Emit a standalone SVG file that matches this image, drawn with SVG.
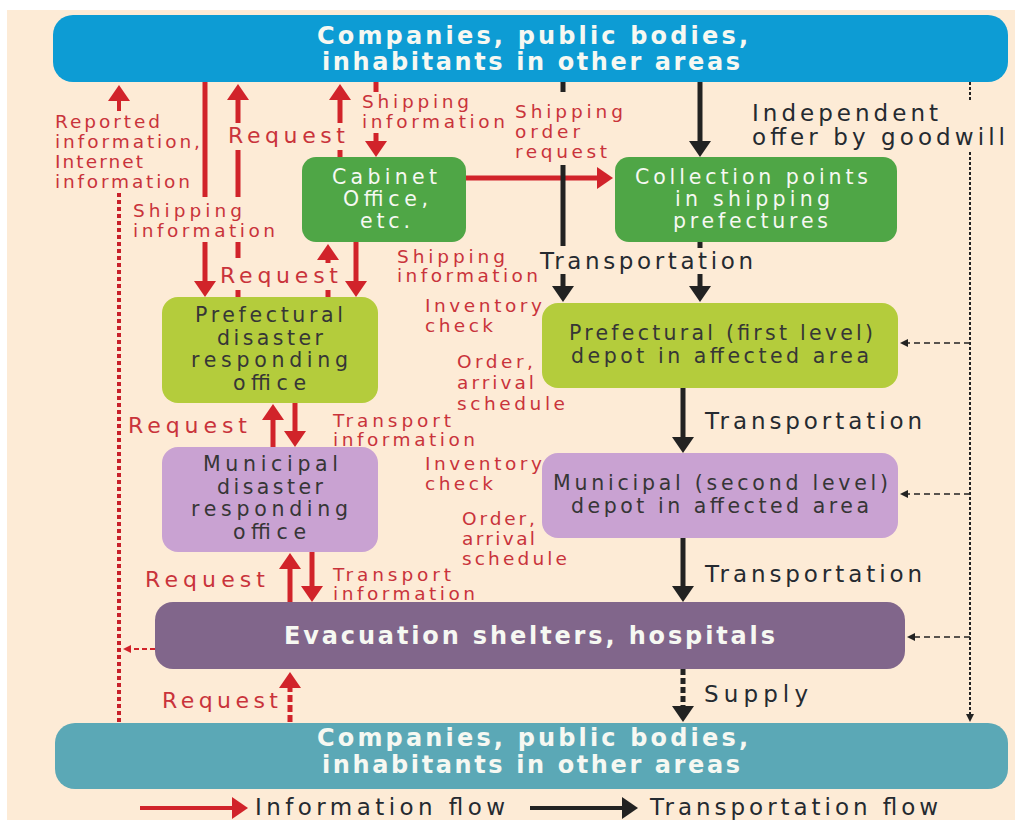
<svg xmlns="http://www.w3.org/2000/svg" width="1020" height="823" viewBox="0 0 1020 823">
<style>
  text { font-family: "DejaVu Sans", "Liberation Sans", sans-serif; }
  .bg { fill: #fdebd6; }
  .r { fill: none; stroke: #d1232a; stroke-width: 5; }
  .rdot { fill: none; stroke: #c8202a; stroke-width: 4; stroke-dasharray: 4 3; }
  .rdash { fill: none; stroke: #d1232a; stroke-width: 5; stroke-dasharray: 7 3; }
  .rthin { fill: none; stroke: #d1232a; stroke-width: 2; stroke-dasharray: 5 3; }
  .k { fill: none; stroke: #222; stroke-width: 5; }
  .kdash { fill: none; stroke: #222; stroke-width: 5; stroke-dasharray: 6 3; }
  .kdot { fill: none; stroke: #222; stroke-width: 2; stroke-dasharray: 3 2; }
  .kthin { fill: none; stroke: #222; stroke-width: 1.6; stroke-dasharray: 6 4; }
  .lr { fill: #c9333b; font-size: 18.5px; }
  .lrb { fill: #c9333b; font-size: 22px; }
  .lk { fill: #252a30; font-size: 23px; }
  .nw { fill: #f6f8f2; font-size: 20.5px; }
  .nd { fill: #363636; font-size: 20.5px; }
  .big { fill: #f6f8f2; font-size: 24px; font-weight: bold; }
</style>
<defs>
  <marker id="aR" markerUnits="userSpaceOnUse" markerWidth="16" markerHeight="22" refX="0" refY="11" orient="auto">
    <path d="M0,0 L16,11 L0,22 z" fill="#d1232a"/>
  </marker>
  <marker id="aK" markerUnits="userSpaceOnUse" markerWidth="16" markerHeight="22" refX="0" refY="11" orient="auto">
    <path d="M0,0 L16,11 L0,22 z" fill="#222"/>
  </marker>
  <marker id="aKs" markerUnits="userSpaceOnUse" markerWidth="8" markerHeight="8" refX="0" refY="4" orient="auto">
    <path d="M0,0 L8,4 L0,8 z" fill="#222"/>
  </marker>
  <marker id="aRs" markerUnits="userSpaceOnUse" markerWidth="8" markerHeight="8" refX="0" refY="4" orient="auto">
    <path d="M0,0 L8,4 L0,8 z" fill="#d1232a"/>
  </marker>
</defs>

<rect class="bg" x="7" y="10" width="1008" height="810"/>

<g id="node-top">
  <rect x="53" y="15" width="955" height="67" rx="20" fill="#0d9cd4"/>
  <text class="big" x="317" y="44" textLength="431" lengthAdjust="spacing">Companies, public bodies,</text>
  <text class="big" x="322" y="70" textLength="418" lengthAdjust="spacing">inhabitants in other areas</text>
</g>
<g id="node-cabinet">
  <rect x="302" y="157" width="164" height="85" rx="14" fill="#4fa646"/>
  <text class="nw" x="332" y="184" textLength="105" lengthAdjust="spacing">Cabinet</text>
  <text class="nw" x="343" y="206" textLength="85" lengthAdjust="spacing">Office,</text>
  <text class="nw" x="360" y="228" textLength="50" lengthAdjust="spacing">etc.</text>
</g>
<g id="node-collection">
  <rect x="615" y="157" width="282" height="85" rx="14" fill="#4fa646"/>
  <text class="nw" x="635" y="184" textLength="233" lengthAdjust="spacing">Collection points</text>
  <text class="nw" x="675" y="206" textLength="155" lengthAdjust="spacing">in shipping</text>
  <text class="nw" x="673" y="228" textLength="155" lengthAdjust="spacing">prefectures</text>
</g>
<g id="node-pref-office">
  <rect x="162" y="297" width="216" height="106" rx="16" fill="#b4cc3c"/>
  <text class="nd" x="195" y="322" textLength="148" lengthAdjust="spacing">Prefectural</text>
  <text class="nd" x="217" y="345" textLength="106" lengthAdjust="spacing">disaster</text>
  <text class="nd" x="191" y="367" textLength="157" lengthAdjust="spacing">responding</text>
  <text class="nd" x="233" y="390" textLength="73" lengthAdjust="spacing">office</text>
</g>
<g id="node-muni-office">
  <rect x="162" y="447" width="216" height="105" rx="16" fill="#c9a2d2"/>
  <text class="nd" x="203" y="471" textLength="135" lengthAdjust="spacing">Municipal</text>
  <text class="nd" x="217" y="494" textLength="106" lengthAdjust="spacing">disaster</text>
  <text class="nd" x="191" y="516" textLength="157" lengthAdjust="spacing">responding</text>
  <text class="nd" x="233" y="539" textLength="73" lengthAdjust="spacing">office</text>
</g>
<g id="node-pref-depot">
  <rect x="542" y="303" width="356" height="85" rx="16" fill="#b4cc3c"/>
  <text class="nd" x="569" y="340" textLength="304" lengthAdjust="spacing">Prefectural (first level)</text>
  <text class="nd" x="571" y="363" textLength="298" lengthAdjust="spacing">depot in affected area</text>
</g>
<g id="node-muni-depot">
  <rect x="542" y="453" width="356" height="85" rx="16" fill="#c9a2d2"/>
  <text class="nd" x="553" y="490" textLength="335" lengthAdjust="spacing">Municipal (second level)</text>
  <text class="nd" x="571" y="513" textLength="298" lengthAdjust="spacing">depot in affected area</text>
</g>
<g id="node-evac">
  <rect x="155" y="602" width="750" height="67" rx="18" fill="#81668b"/>
  <text class="big" x="284" y="644" textLength="491" lengthAdjust="spacing">Evacuation shelters, hospitals</text>
</g>
<g id="node-bottom">
  <rect x="55" y="723" width="953" height="66" rx="20" fill="#5ba8b6"/>
  <text class="big" x="317" y="746" textLength="431" lengthAdjust="spacing">Companies, public bodies,</text>
  <text class="big" x="322" y="773" textLength="418" lengthAdjust="spacing">inhabitants in other areas</text>
</g>

<g id="connectors">
  <!-- red information flows -->
  <path class="rdot" d="M119,722 L119,193"/>
  <path class="r" style="stroke-width:4" d="M119,111 L119,101" marker-end="url(#aR)"/>
  <path class="rthin" d="M155,649 L131,649" marker-end="url(#aRs)"/>
  <path class="r" d="M205,82 L205,197"/>
  <path class="r" d="M205,242 L205,281" marker-end="url(#aR)"/>
  <path class="r" d="M238,297 L238,290 M238,258 L238,242 M238,197 L238,150"/>
  <path class="r" d="M238,123 L238,100" marker-end="url(#aR)"/>
  <path class="r" d="M340,157 L340,150"/>
  <path class="r" d="M340,123 L340,100" marker-end="url(#aR)"/>
  <path class="r" d="M376,82 L376,92"/>
  <path class="r" d="M376,133 L376,141" marker-end="url(#aR)"/>
  <path class="r" d="M328,297 L328,290"/>
  <path class="r" d="M328,263 L328,260" marker-end="url(#aR)"/>
  <path class="r" d="M356,242 L356,281" marker-end="url(#aR)"/>
  <path class="r" d="M466,178 L597,178" marker-end="url(#aR)"/>
  <path class="r" d="M273,447 L273,420" marker-end="url(#aR)"/>
  <path class="r" d="M295,403 L295,431" marker-end="url(#aR)"/>
  <path class="r" d="M290,602 L290,569" marker-end="url(#aR)"/>
  <path class="r" d="M312,552 L312,586" marker-end="url(#aR)"/>
  <path class="rdash" d="M290,722 L290,688" marker-end="url(#aR)"/>
  <!-- black transportation flows -->
  <path class="k" d="M563,82 L563,92 M563,165 L563,246"/>
  <path class="k" d="M563,274 L563,286" marker-end="url(#aK)"/>
  <path class="k" d="M700,82 L700,141" marker-end="url(#aK)"/>
  <path class="k" d="M700,242 L700,248"/>
  <path class="k" d="M700,274 L700,286" marker-end="url(#aK)"/>
  <path class="k" d="M683,388 L683,437" marker-end="url(#aK)"/>
  <path class="k" d="M683,538 L683,586" marker-end="url(#aK)"/>
  <path class="kdash" d="M683,669 L683,706" marker-end="url(#aK)"/>
  <path class="kdot" d="M970,82 L970,100"/>
  <path class="kdot" d="M970,152 L970,714" marker-end="url(#aKs)"/>
  <path class="kthin" d="M970,343 L908,343" marker-end="url(#aKs)"/>
  <path class="kthin" d="M970,494 L908,494" marker-end="url(#aKs)"/>
  <path class="kthin" d="M970,637 L915,637" marker-end="url(#aKs)"/>
  <!-- legend -->
  <path class="r" style="stroke-width:4" d="M140,808 L232,808" marker-end="url(#aR)"/>
  <path class="k" style="stroke-width:4" d="M530,808 L622,808" marker-end="url(#aK)"/>
</g>

<g id="labels">
  <text class="lr" x="55" y="128" textLength="105" lengthAdjust="spacing">Reported</text>
  <text class="lr" x="55" y="148" textLength="145" lengthAdjust="spacing">information,</text>
  <text class="lr" x="55" y="168" textLength="88" lengthAdjust="spacing">Internet</text>
  <text class="lr" x="55" y="188" textLength="135" lengthAdjust="spacing">information</text>
  <text class="lrb" x="228" y="143" textLength="117" lengthAdjust="spacing">Request</text>
  <text class="lr" x="362" y="108" textLength="107" lengthAdjust="spacing">Shipping</text>
  <text class="lr" x="362" y="128" textLength="143" lengthAdjust="spacing">information</text>
  <text class="lr" x="133" y="217" textLength="109" lengthAdjust="spacing">Shipping</text>
  <text class="lr" x="133" y="237" textLength="142" lengthAdjust="spacing">information</text>
  <text class="lrb" x="220" y="283" textLength="118" lengthAdjust="spacing">Request</text>
  <text class="lr" x="397" y="263" textLength="108" lengthAdjust="spacing">Shipping</text>
  <text class="lr" x="397" y="282" textLength="141" lengthAdjust="spacing">information</text>
  <text class="lr" x="515" y="118" textLength="108" lengthAdjust="spacing">Shipping</text>
  <text class="lr" x="515" y="138" textLength="65" lengthAdjust="spacing">order</text>
  <text class="lr" x="515" y="158" textLength="92" lengthAdjust="spacing">request</text>
  <text class="lr" x="425" y="312" textLength="117" lengthAdjust="spacing">Inventory</text>
  <text class="lr" x="425" y="332" textLength="68" lengthAdjust="spacing">check</text>
  <text class="lr" x="457" y="368" textLength="76" lengthAdjust="spacing">Order,</text>
  <text class="lr" x="457" y="389" textLength="77" lengthAdjust="spacing">arrival</text>
  <text class="lr" x="457" y="410" textLength="108" lengthAdjust="spacing">schedule</text>
  <text class="lr" x="333" y="427" textLength="118" lengthAdjust="spacing">Transport</text>
  <text class="lr" x="333" y="446" textLength="142" lengthAdjust="spacing">information</text>
  <text class="lrb" x="128" y="433" textLength="119" lengthAdjust="spacing">Request</text>
  <text class="lr" x="425" y="470" textLength="117" lengthAdjust="spacing">Inventory</text>
  <text class="lr" x="425" y="490" textLength="68" lengthAdjust="spacing">check</text>
  <text class="lr" x="462" y="525" textLength="73" lengthAdjust="spacing">Order,</text>
  <text class="lr" x="462" y="545" textLength="73" lengthAdjust="spacing">arrival</text>
  <text class="lr" x="462" y="565" textLength="105" lengthAdjust="spacing">schedule</text>
  <text class="lr" x="333" y="581" textLength="118" lengthAdjust="spacing">Transport</text>
  <text class="lr" x="333" y="600" textLength="142" lengthAdjust="spacing">information</text>
  <text class="lrb" x="145" y="587" textLength="120" lengthAdjust="spacing">Request</text>
  <text class="lrb" x="162" y="708" textLength="116" lengthAdjust="spacing">Request</text>

  <text class="lk" x="752" y="121" textLength="186" lengthAdjust="spacing">Independent</text>
  <text class="lk" x="752" y="145" textLength="253" lengthAdjust="spacing">offer by goodwill</text>
  <text class="lk" x="540" y="269" textLength="213" lengthAdjust="spacing">Transportation</text>
  <text class="lk" x="705" y="429" textLength="217" lengthAdjust="spacing">Transportation</text>
  <text class="lk" x="705" y="582" textLength="217" lengthAdjust="spacing">Transportation</text>
  <text class="lk" x="704" y="702" textLength="104" lengthAdjust="spacing">Supply</text>
  <text class="lk" x="255" y="815" textLength="250" lengthAdjust="spacing">Information flow</text>
  <text class="lk" x="650" y="815" textLength="288" lengthAdjust="spacing">Transportation flow</text>
</g>
</svg>
